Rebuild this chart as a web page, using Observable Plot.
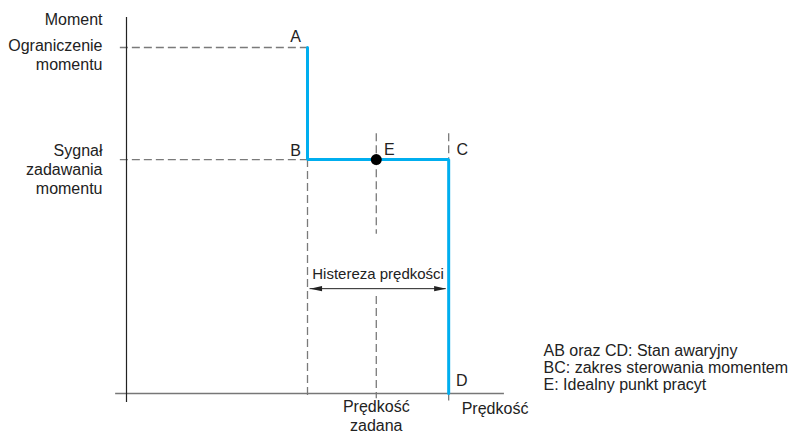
<!DOCTYPE html>
<html>
<head>
<meta charset="utf-8">
<script src="https://cdn.jsdelivr.net/npm/d3@7"></script>
<script src="https://cdn.jsdelivr.net/npm/@observablehq/plot@0.6"></script>
<style>
  html, body { margin: 0; padding: 0; background: #fff; }
  #chart svg { display: block; }
</style>
</head>
<body>
<div id="chart"></div>
<script>
// ---- data (normalised units: speed %, torque %) ----
const speedB = 50;          // point B / A speed
const speedRef = 69;        // reference speed (E)
const speedC = 89;          // point C / D speed
const torqueLimit = 100;    // torque limit (A)
const torqueRef = 67.6;     // torque reference (B, E, C)
const hystY = 30.3;         // level of hysteresis arrow

const pathPoints = [
  {name: "A", x: speedB, y: torqueLimit},
  {name: "B", x: speedB, y: torqueRef},
  {name: "C", x: speedC, y: torqueRef},
  {name: "D", x: speedC, y: 0}
];
const pointNames = ["A", "B", "E", "C", "D"];
const pointX = [speedB, speedB, speedRef, speedC, speedC];
const pointY = [torqueLimit, torqueRef, torqueRef, torqueRef, 0];
const legendLines = [
  "AB oraz CD: Stan awaryjny",
  "BC: zakres sterowania momentem",
  "E: Idealny punkt pracyt"
];

const ink = "#222";
const dashColor = "#7a7a7a";
const blue = "#00aeef";
const font = "Liberation Sans, Arial, Helvetica, sans-serif";
const fs = 16;

// label offsets (px) relative to their points
const labelOffsets = {A: [-12, -11], B: [-12, -9], E: [13, -9.5], C: [13.5, -10], D: [13, -13]};

const arrowRight = {draw(ctx) { ctx.moveTo(0, 0); ctx.lineTo(-12, -2.6); ctx.lineTo(-12, 2.6); ctx.closePath(); }};
const arrowLeft  = {draw(ctx) { ctx.moveTo(0, 0); ctx.lineTo(12, -2.6); ctx.lineTo(12, 2.6); ctx.closePath(); }};

const dash = {stroke: dashColor, strokeWidth: 1.3, strokeDasharray: "8,4"};

const labelMarks = pointNames.map((n, i) =>
  Plot.text([n], {x: pointX[i], y: pointY[i], dx: labelOffsets[n][0], dy: labelOffsets[n][1], fill: ink, fontSize: fs})
);

const chart = Plot.plot({
  width: 790,
  height: 433,
  margin: 0,
  style: {fontFamily: font, fontSize: fs + "px", color: ink, background: "#fff"},
  x: {type: "linear", domain: [0, 100], range: [126, 488], axis: null},
  y: {type: "linear", domain: [0, 100], range: [393, 47], axis: null},
  marks: [
    // dashed guides
    Plot.ruleY([torqueLimit, torqueRef], {x1: -1.7, x2: speedB, ...dash}),
    Plot.ruleX([speedB], {y1: torqueRef, y2: -1.5, ...dash}),
    Plot.ruleX([speedRef], {y1: 75.1, y2: 46, ...dash}),
    Plot.ruleX([speedRef], {y1: 28, y2: -1.5, ...dash}),
    Plot.ruleX([speedC], {y1: 75.1, y2: torqueRef, ...dash}),
    Plot.ruleX([speedC], {y1: -0.4, y2: -2.2, ...dash}),
    // axes
    Plot.ruleY([0], {x1: -3, x2: 104.4, stroke: "#777", strokeWidth: 1.6}),
    Plot.ruleX([0], {y1: -2.6, y2: 108.7, stroke: ink, strokeWidth: 1.2}),
    // hysteresis arrow
    Plot.ruleY([hystY], {x1: speedB + 0.7, x2: speedC - 0.7, stroke: ink, strokeWidth: 1}),
    Plot.dot([{x: speedC - 0.7, y: hystY}], {x: "x", y: "y", symbol: arrowRight, fill: ink, stroke: null, r: 4}),
    Plot.dot([{x: speedB + 0.7, y: hystY}], {x: "x", y: "y", symbol: arrowLeft, fill: ink, stroke: null, r: 4}),
    Plot.text(["Histereza prędkości"], {x: (speedB + speedC) / 2, y: hystY, dy: -14, fill: ink, fontSize: 15}),
    // characteristic
    Plot.line(pathPoints, {x: "x", y: "y", stroke: blue, strokeWidth: 3, strokeLinejoin: "miter", curve: "linear"}),
    Plot.dot([{x: speedRef, y: torqueRef}], {x: "x", y: "y", r: 5.5, fill: "#000", stroke: null}),
    // point labels
    ...labelMarks,
    // y-axis labels
    Plot.text(["Moment"], {x: 0, y: 108.7, dx: -24, dy: 2, textAnchor: "end", fill: ink, fontSize: fs}),
    Plot.text(["Ograniczenie\nmomentu"], {x: 0, y: torqueLimit, dx: -24, dy: 6.5, textAnchor: "end", lineHeight: 1.2, fill: ink, fontSize: fs}),
    Plot.text(["Sygnał\nzadawania\nmomentu"], {x: 0, y: torqueRef, dx: -24, dy: 9, textAnchor: "end", lineHeight: 1.2, fill: ink, fontSize: fs}),
    // x-axis labels
    Plot.text(["Prędkość\nzadana"], {x: speedRef, y: 0, dy: 22, lineHeight: 1.15, fill: ink, fontSize: fs}),
    Plot.text(["Prędkość"], {x: speedC, y: 0, dx: 13, dy: 15, textAnchor: "start", fill: ink, fontSize: fs}),
    // legend
    Plot.text([legendLines.join("\n")], {x: 115.2, y: 7.5, textAnchor: "start", lineHeight: 1.07, fill: ink, fontSize: fs})
  ]
});
document.getElementById("chart").append(chart);
</script>
</body>
</html>
